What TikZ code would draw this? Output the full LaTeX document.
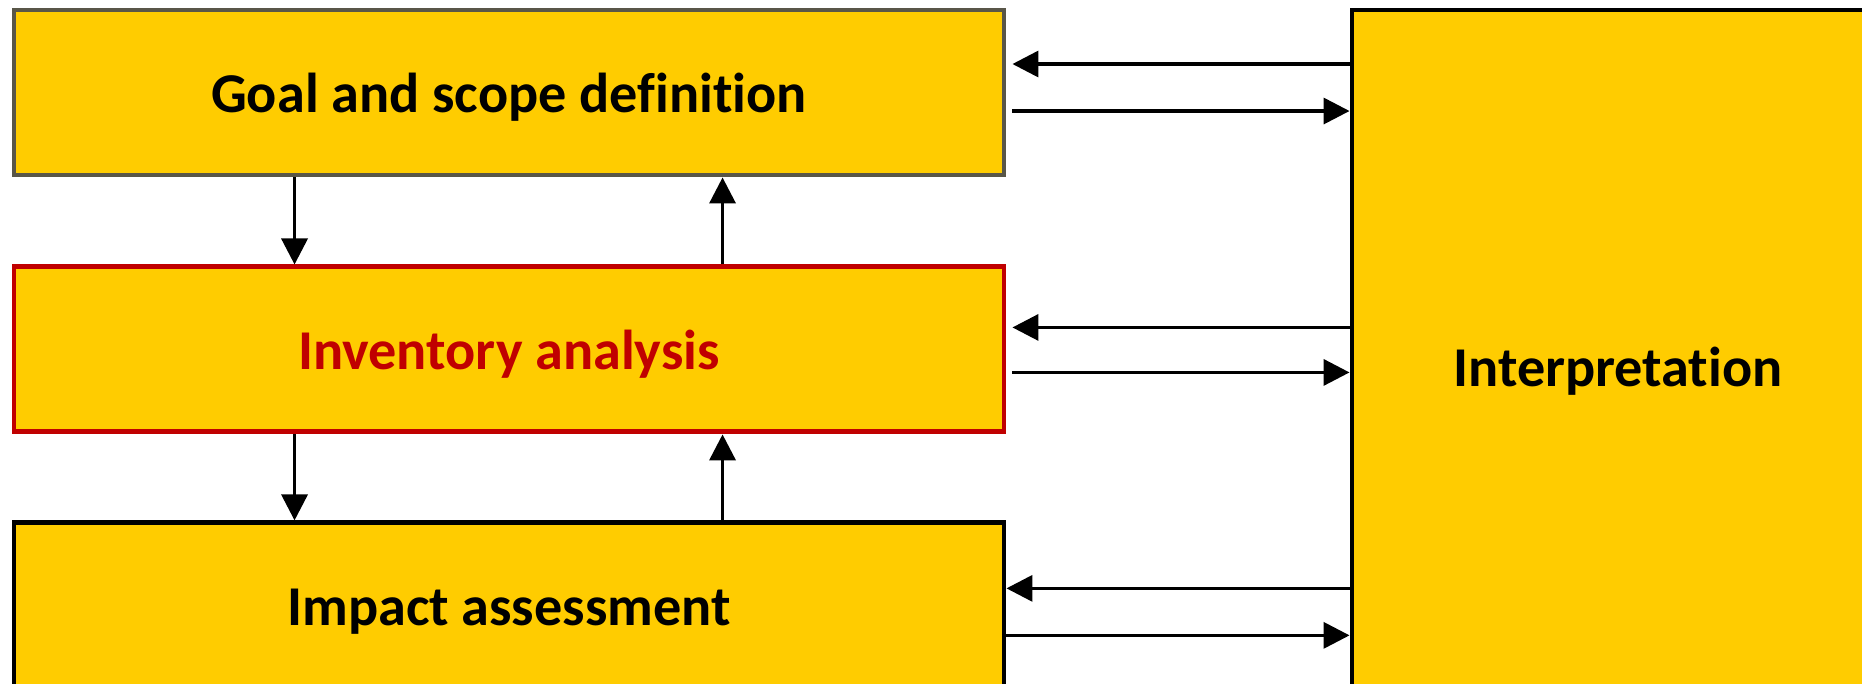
\documentclass[tikz,border=0pt]{standalone}
\usepackage{fontspec}
\setmainfont[Ligatures=NoCommon]{Carlito}
\usepackage{xcolor}
\usepackage{tikz}
\usetikzlibrary{arrows.meta, positioning, calc}

\definecolor{stagefill}{HTML}{FFCC00}
\definecolor{goalline}{RGB}{89,86,72}
\definecolor{invred}{HTML}{C00000}

\begin{document}
\begin{tikzpicture}[
    node distance=0.87cm and 3.46cm,
    stage/.style={draw, line width=1.4pt, fill=stagefill, minimum width=9.90cm, minimum height=1.65cm, align=center, text height=4mm, text depth=0pt, font=\fontsize{16}{19}\selectfont\bfseries},
    arrow/.style={-{Triangle[length=2.6mm, width=2.6mm]}, line width=1pt},
]
\useasboundingbox (0,0) rectangle (18.62,-6.83);

% Stages - left side
\node[stage, draw=goalline] (goal) at (5.09,-0.925) {Goal and scope definition};
\node[stage, draw=invred, text=invred, below=0.87cm of goal] (inv) {Inventory analysis};
\node[stage, below=0.86cm of inv] (impact) {Impact assessment};

% Interpretation - right side
\node[stage, minimum width=5.32cm, minimum height=7.12cm] (interp) at (16.18,-3.66) {Interpretation};

% Arrows between stages
\draw[arrow] ([xshift=2.83cm]goal.south west) -- ([xshift=2.83cm]inv.north west);
\draw[arrow] ([xshift=7.11cm]inv.north west) -- ([xshift=7.11cm]goal.south west);
\draw[arrow] ([xshift=2.83cm]inv.south west) -- ([xshift=2.83cm]impact.north west);
\draw[arrow] ([xshift=7.11cm]impact.north west) -- ([xshift=7.11cm]inv.south west);

% Arrows to and from interpretation
\draw[arrow] ([yshift=2.85mm]goal.east -| interp.west) -- ([yshift=2.85mm, xshift=0.6mm]goal.east);
\draw[arrow] ([yshift=-1.85mm, xshift=0.6mm]goal.east) -- ([yshift=-1.85mm]goal.east -| interp.west);
\draw[arrow] ([yshift=2.2mm]inv.east -| interp.west) -- ([yshift=2.2mm, xshift=0.6mm]inv.east);
\draw[arrow] ([yshift=-2.3mm, xshift=0.6mm]inv.east) -- ([yshift=-2.3mm]inv.east -| interp.west);
\draw[arrow] ([yshift=1.7mm]impact.east -| interp.west) -- ([yshift=1.7mm]impact.east);
\draw[arrow] ([yshift=-3.0mm]impact.east) -- ([yshift=-3.0mm]impact.east -| interp.west);

\end{tikzpicture}
\end{document}
